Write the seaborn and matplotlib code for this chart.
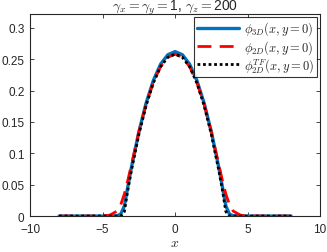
import matplotlib
matplotlib.use("Agg")
import matplotlib.pyplot as plt
import numpy as np
import pandas as pd
import seaborn as sns

x = [-8, -7, -6, -5, -4.5, -4, -3.75, -3.5, -3.25, -3, -2.5, -2, -1.5, -1, -0.5,
     0, 0.5, 1, 1.5, 2, 2.5, 3, 3.25, 3.5, 3.75, 4, 4.5, 5, 6, 7, 8]
phi_3d = [0, 0, 0, 0, 0, 0.0005, 0.003, 0.016, 0.048, 0.079, 0.134, 0.180, 0.216, 0.242, 0.257,
          0.262, 0.257, 0.242, 0.216, 0.180, 0.134, 0.079, 0.048, 0.016, 0.003, 0.0005, 0, 0, 0, 0, 0]
phi_2d = [0, 0, 0, 0.0002, 0.0015, 0.008, 0.018, 0.035, 0.058, 0.083, 0.134, 0.178, 0.213, 0.238, 0.253,
          0.258, 0.253, 0.238, 0.213, 0.178, 0.134, 0.083, 0.058, 0.035, 0.018, 0.008, 0.0015, 0.0002, 0, 0, 0]
phi_tf = [0, 0, 0, 0, 0, 0, 0, 0.007, 0.043, 0.074, 0.130, 0.176, 0.212, 0.238, 0.253,
          0.258, 0.253, 0.238, 0.212, 0.176, 0.130, 0.074, 0.043, 0.007, 0, 0, 0, 0, 0, 0, 0]

labels = [r"$\phi_{3D}(x,y=0)$", r"$\phi_{2D}(x,y=0)$", r"$\phi_{2D}^{TF}(x,y=0)$"]

sns.set_style("ticks")
plt.rcParams["font.family"] = ["Liberation Sans", "DejaVu Sans"]
plt.rcParams["mathtext.fontset"] = "cm"
plt.rcParams["xtick.direction"] = "in"
plt.rcParams["ytick.direction"] = "in"

df = pd.DataFrame({"x": x, "3d": phi_3d, "2d": phi_2d, "tf": phi_tf})

fig = plt.figure(figsize=(3.27, 2.53), dpi=100)
ax = fig.add_axes([0.092, 0.142, 0.887, 0.799])

sns.lineplot(data=df, x="x", y="3d", color="#0072BD", lw=2.4, label=labels[0], ax=ax)
sns.lineplot(data=df, x="x", y="2d", color="#FF0000", lw=2.0, ls=(0, (5, 3)), label=labels[1], ax=ax)
sns.lineplot(data=df, x="x", y="tf", color="black", lw=2.0, ls=(0, (1, 1)), label=labels[2], ax=ax)

ax.set_xlim(-10, 10)
ax.set_ylim(0, 0.322)
ax.set_xticks([-10, -5, 0, 5, 10])
ax.set_yticks([0, 0.05, 0.1, 0.15, 0.2, 0.25, 0.3])
ax.set_yticklabels(["0", "0.05", "0.1", "0.15", "0.2", "0.25", "0.3"])
ax.tick_params(labelsize=8.5, top=True, right=True, length=3, width=0.6)
ax.tick_params(axis="x", pad=5)
ax.tick_params(axis="y", pad=4)
for s in ax.spines.values():
    s.set_linewidth(0.8)
ax.set_xlabel(r"$x$", fontsize=10, labelpad=0)
ax.set_ylabel("")
ax.set_title(r"$\gamma_x=\gamma_y=$1, $\gamma_z=$200", fontsize=10, pad=3)
leg = ax.legend(loc="upper right", fontsize=9, frameon=True, fancybox=False,
                edgecolor="black", borderpad=0.2, handlelength=3.4, labelspacing=0.05,
                borderaxespad=0.25, handletextpad=0.4)
leg.get_frame().set_linewidth(0.8)

fig.savefig("out.png", dpi=100)
